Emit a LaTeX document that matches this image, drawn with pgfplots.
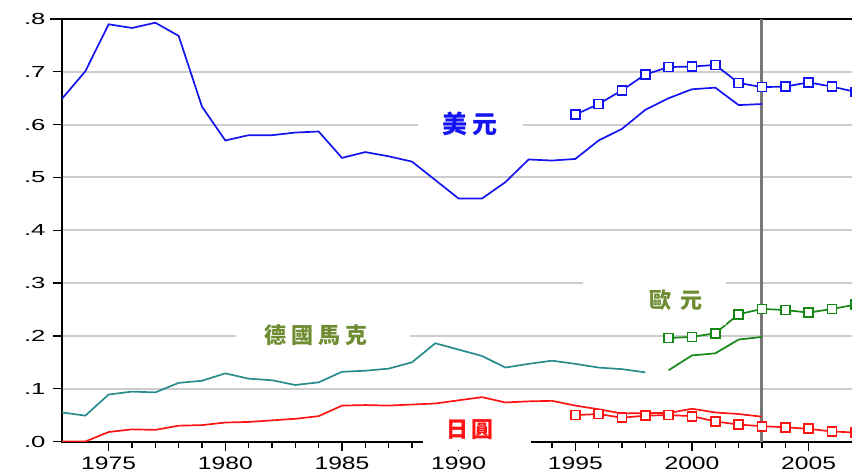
\documentclass[border=0pt]{standalone}
\usepackage{graphicx}
\usepackage{pgfplots}
\pgfplotsset{compat=1.18}
\usepackage{fontspec}
\setmainfont{Liberation Sans}
\newfontfamily\cjk{Noto Sans CJK TC}
\newcommand\wx[1]{\scalebox{1.37}[1]{\fontsize{18}{18}\selectfont #1}}
\newcommand\wy[1]{\scalebox{1.6}[1]{\fontsize{16}{16}\selectfont #1}}
\definecolor{usd}{RGB}{20,20,240}
\definecolor{dm}{RGB}{40,140,140}
\definecolor{eur}{RGB}{20,135,20}
\definecolor{jpy}{RGB}{255,20,20}
\definecolor{olivel}{RGB}{110,140,50}
\definecolor{vline}{RGB}{120,120,120}
\definecolor{gridc}{RGB}{205,205,205}
\begin{document}
\begin{tikzpicture}
\useasboundingbox (-62pt,-33.5pt) rectangle (790pt,441.5pt);
\clip (-62pt,-33.5pt) rectangle (790pt,441.5pt);
\begin{axis}[
  at={(0pt,0pt)}, anchor=south west,
  scale only axis, width=793.3pt, height=422.5pt,
  xmin=1973, xmax=2007, ymin=0, ymax=0.8,
  xtick={1975,1980,1985,1990,1995,2000,2005},
  xticklabels={\wx{1975},\wx{1980},\wx{1985},\wx{1990},\wx{1995},\wx{2000},\wx{2005}},
  minor x tick num=4,
  ytick={0,0.1,0.2,0.3,0.4,0.5,0.6,0.7,0.8},
  yticklabels={\wy{.0},\wy{.1},\wy{.2},\wy{.3},\wy{.4},\wy{.5},\wy{.6},\wy{.7},\wy{.8}},
  tick align=outside, tick pos=left,
  major tick length=9pt, minor tick length=6pt,
  ytick style={shorten <=-3pt},
  ymajorgrids, grid style={gridc, line width=2pt},
  axis line style={black, line width=2pt},
  tick style={black, line width=1.3pt},
  xticklabel style={yshift=-3pt},
  yticklabel style={xshift=-4pt},
  every axis plot/.append style={line width=1.7pt},
]
\addplot[vline, line width=3pt, forget plot] coordinates {(2003,0) (2003,0.8)};
% US dollar (line)
\addplot[usd] table {
x y
1973 0.649
1974 0.701
1975 0.790
1976 0.783
1977 0.793
1978 0.768
1979 0.634
1980 0.570
1981 0.580
1982 0.580
1983 0.585
1984 0.587
1985 0.537
1986 0.548
1987 0.540
1988 0.530
1989 0.495
1990 0.460
1991 0.460
1992 0.491
1993 0.534
1994 0.532
1995 0.535
1996 0.570
1997 0.592
1998 0.628
1999 0.650
2000 0.667
2001 0.670
2002 0.637
2003 0.639
};
% US dollar (markers)
\addplot[usd, mark=square*, mark size=4.5pt, mark options={fill=white, line width=1.7pt}] table {
x y
1995 0.619
1996 0.639
1997 0.665
1998 0.695
1999 0.709
2000 0.710
2001 0.713
2002 0.679
2003 0.671
2004 0.672
2005 0.680
2006 0.672
2007 0.662
};
% Deutsche Mark
\addplot[dm] table {
x y
1973 0.055
1974 0.049
1975 0.089
1976 0.0945
1977 0.093
1978 0.111
1979 0.115
1980 0.129
1981 0.119
1982 0.116
1983 0.107
1984 0.112
1985 0.132
1986 0.134
1987 0.138
1988 0.150
1989 0.186
1990 0.174
1991 0.162
1992 0.140
1993 0.147
1994 0.153
1995 0.147
1996 0.140
1997 0.137
1998 0.131
};
% Euro (line)
\addplot[eur] table {
x y
1999 0.135
2000 0.163
2001 0.167
2002 0.193
2003 0.198
};
% Euro (markers)
\addplot[eur, mark=square*, mark size=4.5pt, mark options={fill=white, line width=1.7pt}] table {
x y
1999 0.196
2000 0.198
2001 0.205
2002 0.241
2003 0.251
2004 0.249
2005 0.244
2006 0.251
2007 0.259
};
% Yen (line)
\addplot[jpy] table {
x y
1973 0.000
1974 0.000
1975 0.018
1976 0.023
1977 0.022
1978 0.030
1979 0.031
1980 0.036
1981 0.037
1982 0.040
1983 0.043
1984 0.048
1985 0.068
1986 0.069
1987 0.068
1988 0.070
1989 0.072
1990 0.078
1991 0.084
1992 0.074
1993 0.076
1994 0.077
1995 0.068
1996 0.061
1997 0.053
1998 0.054
1999 0.054
2000 0.062
2001 0.055
2002 0.052
2003 0.047
};
% Yen (markers)
\addplot[jpy, mark=square*, mark size=4.5pt, mark options={fill=white, line width=1.7pt}] table {
x y
1995 0.050
1996 0.052
1997 0.045
1998 0.049
1999 0.050
2000 0.048
2001 0.038
2002 0.032
2003 0.029
2004 0.027
2005 0.024
2006 0.019
2007 0.017
};
\coordinate (u1) at (axis cs:1988.26,0.578);
\coordinate (u2) at (axis cs:1992.76,0.622);
\coordinate (ut) at (axis cs:1990.49,0.6006);
\coordinate (d1) at (axis cs:1980.46,0.18);
\coordinate (d2) at (axis cs:1987.92,0.225);
\coordinate (dt) at (axis cs:1983.89,0.202);
\coordinate (e1) at (axis cs:1995.33,0.22);
\coordinate (e2) at (axis cs:2001.46,0.315);
\coordinate (et) at (axis cs:1999.32,0.2685);
\coordinate (j1) at (axis cs:1988.47,-0.0155);
\coordinate (j2) at (axis cs:1993.10,0.05);
\coordinate (jt) at (axis cs:1990.49,0.0218);
\end{axis}
\fill[white] (u1) rectangle (u2);
\fill[white] (d1) rectangle (d2);
\fill[white] (e1) rectangle (e2);
\fill[white] (j1) rectangle (j2);
\node[text=usd, font=\cjk\bfseries\fontsize{25}{25}\selectfont, inner sep=0pt] at (ut) {美\hspace{5pt}元};
\node[text=olivel, font=\cjk\bfseries\fontsize{22}{22}\selectfont, inner sep=0pt] at (dt) {德\hspace{5pt}國\hspace{5pt}馬\hspace{5pt}克};
\node[text=olivel, font=\cjk\bfseries\fontsize{22}{22}\selectfont, inner sep=0pt] at (et) {歐\hspace{9pt}元};
\node[text=jpy, font=\cjk\bfseries\fontsize{22}{22}\selectfont, inner sep=0pt] at (jt) {日\hspace{3pt}圓};
\end{tikzpicture}
\end{document}
